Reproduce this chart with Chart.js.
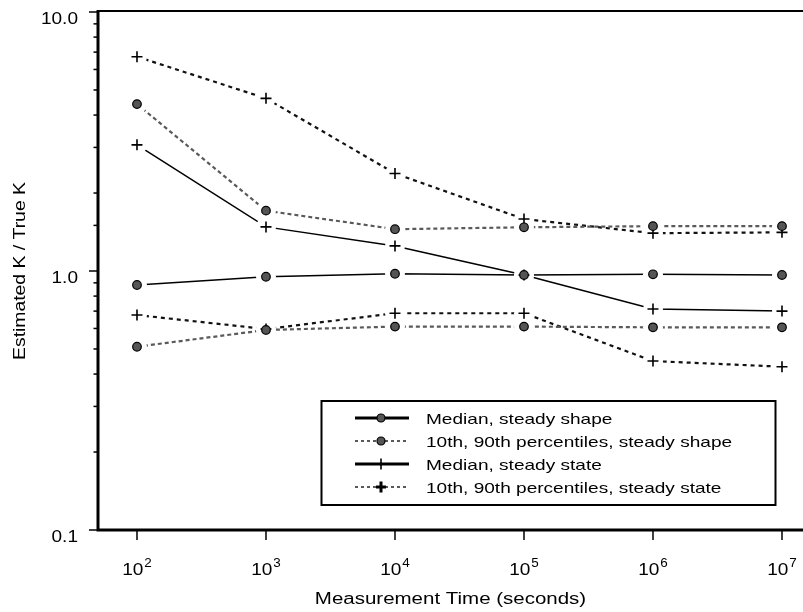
<!DOCTYPE html>
<html>
<head>
<meta charset="utf-8">
<script src="https://cdn.jsdelivr.net/npm/chart.js@4"></script>
<style>
  html, body { margin: 0; padding: 0; background: #fff; overflow: hidden; }
  #wrap { width: 803px; height: 612px; }
  canvas { display: block; }
</style>
</head>
<body>
<div id="wrap"><canvas id="chart" width="803" height="612"></canvas></div>
<script>
const timeValues = [1e2, 1e3, 1e4, 1e5, 1e6, 1e7]
const xExponents = ['2', '3', '4', '5', '6', '7']
const yTickValues = [0.1, 1, 10]
const yTickLabels = ['0.1', '1.0', '10.0']

const medianShape = [0.883, 0.95, 0.976, 0.965, 0.971, 0.965]
const p90Shape = [4.41, 1.71, 1.45, 1.475, 1.49, 1.49]
const p10Shape = [0.51, 0.592, 0.61, 0.61, 0.606, 0.606]
const medianState = [3.07, 1.48, 1.25, 0.965, 0.713, 0.70]
const p90State = [6.72, 4.64, 2.38, 1.587, 1.40, 1.41]
const p10State = [0.676, 0.597, 0.687, 0.687, 0.449, 0.427]

const legendLabels = [
  'Median, steady shape',
  '10th, 90th percentiles, steady shape',
  'Median, steady state',
  '10th, 90th percentiles, steady state',
]

const GRAY_DOT = '#5a5a5a'
const MARK_FILL = '#555555'

const series = [
  { values: medianShape, marker: 'circle', color: '#000', width: 1.5, dash: [] },
  { values: p90Shape, marker: 'circle', color: GRAY_DOT, width: 2.2, dash: [4, 3] },
  { values: p10Shape, marker: 'circle', color: GRAY_DOT, width: 2.2, dash: [4, 3] },
  { values: medianState, marker: 'cross', color: '#000', width: 1.5, dash: [] },
  { values: p90State, marker: 'cross', color: '#111', width: 2.2, dash: [4, 4] },
  { values: p10State, marker: 'cross', color: '#111', width: 2.2, dash: [4, 4] },
]

const toPoints = vals => vals.map((v, i) => ({ x: timeValues[i], y: v }))

const datasets = series.map(s => ({
  data: toPoints(s.values),
  showLine: true,
  borderColor: s.color,
  borderWidth: s.width,
  borderDash: s.dash,
  pointStyle: s.marker,
  pointRadius: s.marker === 'circle' ? 4.3 : 5.5,
  pointBackgroundColor: MARK_FILL,
  pointBorderColor: '#000',
  pointBorderWidth: s.marker === 'circle' ? 1.2 : 1.6,
  marker: s.marker,
}))

const FONT = '"Liberation Sans", Arial, sans-serif'

// text in the reference is wider than Liberation Sans, so stretch it a bit
function stretchText(ctx, text, x, y, size, sx, align, rot) {
  ctx.save()
  ctx.font = size + 'px ' + FONT
  ctx.translate(x, y)
  if (rot) ctx.rotate(rot)
  ctx.scale(sx, 1)
  ctx.textAlign = align
  ctx.fillText(text, 0, 0)
  ctx.restore()
}

// white halo round every marker so the lines stop short of it, then markers on top
const haloPlugin = {
  id: 'halo',
  afterDatasetsDraw(chart) {
    const ctx = chart.ctx
    const area = chart.chartArea
    const metas = chart.data.datasets.map((d, i) => chart.getDatasetMeta(i))
    ctx.save()
    ctx.fillStyle = '#fff'
    metas.forEach(m => m.data.forEach(pt => {
      ctx.beginPath()
      ctx.arc(pt.x, pt.y, 10, 0, Math.PI * 2)
      ctx.fill()
    }))
    ctx.restore()
    ;['cross', 'circle'].forEach(kind => {
      metas.forEach((m, i) => {
        if (chart.data.datasets[i].marker !== kind) return
        m.data.forEach(pt => pt.draw(ctx, area))
      })
    })
  }
}

const framePlugin = {
  id: 'frame',
  afterDraw(chart) {
    const ctx = chart.ctx
    const { left, top, right, bottom } = chart.chartArea
    const xs = chart.scales.x
    const ys = chart.scales.y
    ctx.save()
    ctx.strokeStyle = '#000'
    ctx.fillStyle = '#000'
    ctx.setLineDash([])

    // frame: top, left, bottom
    ctx.lineWidth = 2
    ctx.beginPath()
    ctx.moveTo(left, top - 1)
    ctx.lineTo(right, top - 1)
    ctx.stroke()
    ctx.lineWidth = 3
    ctx.beginPath()
    ctx.moveTo(left, top - 2)
    ctx.lineTo(left, bottom + 1.5)
    ctx.moveTo(left - 1.5, bottom)
    ctx.lineTo(right, bottom)
    ctx.stroke()

    // y ticks (major + minor) pointing outward
    ctx.lineWidth = 1.5
    ys.ticks.forEach(t => {
      const py = ys.getPixelForValue(t.value)
      const major = yTickValues.some(v => Math.abs(v - t.value) < 1e-9)
      ctx.beginPath()
      ctx.moveTo(left - (major ? 9 : 4.5), py)
      ctx.lineTo(left - 1, py)
      ctx.stroke()
    })

    // y tick labels
    ctx.textBaseline = 'alphabetic'
    yTickValues.forEach((v, i) => {
      stretchText(ctx, yTickLabels[i], 78, ys.getPixelForValue(v) + 11.5, 17, 1.12, 'right')
    })

    // x ticks and labels
    ctx.lineWidth = 1.5
    const sxTick = 1.12
    timeValues.forEach((v, i) => {
      const px = xs.getPixelForValue(v)
      ctx.beginPath()
      ctx.moveTo(px, bottom + 1)
      ctx.lineTo(px, bottom + 10)
      ctx.stroke()
      ctx.font = '17px ' + FONT
      const wBase = ctx.measureText('10').width * sxTick
      ctx.font = '12px ' + FONT
      const wExp = ctx.measureText(xExponents[i]).width * sxTick
      const x0 = px - (wBase + wExp + 1) / 2
      stretchText(ctx, '10', x0, 575, 17, sxTick, 'left')
      stretchText(ctx, xExponents[i], x0 + wBase + 1, 567, 12, sxTick, 'left')
    })

    // axis titles
    stretchText(ctx, 'Measurement Time (seconds)', (left + right) / 2, 604, 16, 1.28, 'center')
    ctx.textBaseline = 'middle'
    stretchText(ctx, 'Estimated K / True K', 21, ys.getPixelForValue(1), 16, 1.21, 'center', -Math.PI / 2)
    ctx.textBaseline = 'alphabetic'

    // legend
    ctx.lineWidth = 2
    ctx.strokeRect(321.5, 401, 454, 104)
    const rows = [418, 441, 464, 487]
    rows.forEach((ry, i) => {
      const dashed = i % 2 === 1
      ctx.save()
      ctx.lineWidth = dashed ? 1.3 : 3
      ctx.setLineDash(dashed ? [3, 3] : [])
      ctx.beginPath()
      ctx.moveTo(355, ry)
      ctx.lineTo(409, ry)
      ctx.stroke()
      ctx.restore()
      if (i < 2) {
        ctx.beginPath()
        ctx.arc(381, ry, 4, 0, Math.PI * 2)
        ctx.fillStyle = MARK_FILL
        ctx.fill()
        ctx.lineWidth = 1.2
        ctx.stroke()
        ctx.fillStyle = '#000'
      } else {
        ctx.lineWidth = i === 3 ? 3 : 1.6
        ctx.beginPath()
        ctx.moveTo(381, ry - 5.5)
        ctx.lineTo(381, ry + 5.5)
        ctx.moveTo(376, ry)
        ctx.lineTo(386, ry)
        ctx.stroke()
      }
      stretchText(ctx, legendLabels[i], 426, ry + 5.5, 15, 1.27, 'left')
    })
    ctx.restore()
  }
}

new Chart(document.getElementById('chart'), {
  type: 'scatter',
  data: { datasets },
  options: {
    responsive: false,
    animation: false,
    events: [],
    layout: { autoPadding: false, padding: { left: 98, top: 12, right: 0, bottom: 82 } },
    plugins: { legend: { display: false }, tooltip: { enabled: false } },
    scales: {
      x: { type: 'logarithmic', display: false, min: 49.86, max: 1.455e7 },
      y: { type: 'logarithmic', display: false, min: 0.1, max: 10 },
    },
  },
  plugins: [haloPlugin, framePlugin],
})
</script>
</body>
</html>
